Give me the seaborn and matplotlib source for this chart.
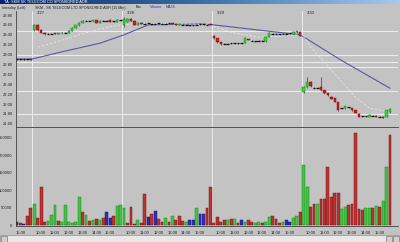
import numpy as np
import pandas as pd
import matplotlib
matplotlib.use("Agg")
import matplotlib.pyplot as plt
import seaborn as sns
from matplotlib.patches import Rectangle
from matplotlib.colors import LinearSegmentedColormap

sns.set_theme(style="white")
plt.rcParams['font.family'] = ['Liberation Sans', 'DejaVu Sans']

# ---------------- data ----------------
open_ = [22.91, 22.91, 22.91, 22.91, 22.91,
         23.50, 23.60, 23.50, 23.44, 23.42, 23.42, 23.43, 23.42, 23.43, 23.44, 23.44, 23.48, 23.54, 23.59, 23.64,
         23.68, 23.68, 23.68, 23.69, 23.64, 23.68, 23.68, 23.70, 23.67, 23.66, 23.69,
         23.60, 23.66, 23.72, 23.68, 23.60, 23.64, 23.62, 23.63, 23.62, 23.62, 23.63, 23.62, 23.62, 23.63, 23.63,
         23.62, 23.60, 23.60, 23.60, 23.59, 23.59, 23.60, 23.61, 23.61, 23.60, 23.61,
         23.38, 23.33, 23.25, 23.22, 23.22, 23.23, 23.23, 23.23, 23.23, 23.24, 23.31, 23.28, 23.27, 23.28, 23.28,
         23.27, 23.36, 23.42, 23.42, 23.41, 23.42, 23.42, 23.43, 23.42, 23.46, 23.46,
         22.24, 22.34, 22.45, 22.33, 22.33, 22.34, 22.28, 22.22, 22.15, 22.12, 22.04, 21.92, 21.92, 21.94, 21.92,
         21.88, 21.80, 21.75, 21.75, 21.74, 21.76, 21.76, 21.74, 21.74, 21.74, 21.84]
high = [22.92, 22.92, 22.92, 22.92, 22.92,
        23.62, 23.62, 23.51, 23.45, 23.43, 23.43, 23.44, 23.44, 23.45, 23.45, 23.49, 23.55, 23.60, 23.65, 23.69,
        23.69, 23.69, 23.70, 23.70, 23.69, 23.69, 23.69, 23.71, 23.68, 23.71, 23.70,
        23.76, 23.73, 23.73, 23.69, 23.65, 23.65, 23.63, 23.64, 23.63, 23.63, 23.64, 23.63, 23.63, 23.64, 23.64,
        23.63, 23.62, 23.61, 23.61, 23.60, 23.60, 23.61, 23.62, 23.62, 23.61, 23.62,
        23.39, 23.34, 23.26, 23.23, 23.23, 23.24, 23.24, 23.24, 23.24, 23.35, 23.32, 23.29, 23.28, 23.29, 23.29,
        23.37, 23.45, 23.43, 23.43, 23.42, 23.43, 23.43, 23.44, 23.48, 23.48, 23.48,
        22.36, 22.55, 22.47, 22.34, 22.34, 22.55, 22.29, 22.23, 22.16, 22.13, 22.05, 21.93, 21.97, 21.95, 21.93,
        21.89, 21.81, 21.76, 21.76, 21.79, 21.77, 21.77, 21.75, 21.75, 21.89, 21.93]
low = [22.90, 22.90, 22.90, 22.90, 22.89,
       23.48, 23.48, 23.43, 23.40, 23.41, 23.41, 23.41, 23.42, 23.42, 23.43, 23.44, 23.47, 23.53, 23.58, 23.63,
       23.67, 23.67, 23.67, 23.63, 23.63, 23.67, 23.67, 23.65, 23.66, 23.65, 23.68,
       23.56, 23.65, 23.67, 23.59, 23.59, 23.61, 23.61, 23.62, 23.61, 23.61, 23.62, 23.61, 23.61, 23.62, 23.61,
       23.59, 23.59, 23.59, 23.59, 23.58, 23.58, 23.59, 23.60, 23.60, 23.59, 23.59,
       23.32, 23.24, 23.19, 23.21, 23.21, 23.22, 23.22, 23.22, 23.22, 23.23, 23.29, 23.27, 23.26, 23.27, 23.27,
       23.26, 23.35, 23.41, 23.41, 23.40, 23.41, 23.41, 23.42, 23.41, 23.44, 23.37,
       22.22, 22.33, 22.34, 22.32, 22.32, 22.27, 22.21, 22.17, 22.10, 22.04, 21.87, 21.91, 21.91, 21.93, 21.87,
       21.81, 21.73, 21.74, 21.74, 21.73, 21.75, 21.73, 21.73, 21.71, 21.73, 21.83]
close = [22.91, 22.91, 22.91, 22.91, 22.90,
         23.60, 23.50, 23.44, 23.41, 23.42, 23.42, 23.42, 23.43, 23.44, 23.44, 23.48, 23.54, 23.59, 23.64, 23.68,
         23.68, 23.68, 23.69, 23.64, 23.68, 23.68, 23.68, 23.66, 23.67, 23.70, 23.69,
         23.72, 23.72, 23.68, 23.60, 23.64, 23.62, 23.62, 23.63, 23.62, 23.62, 23.63, 23.62, 23.62, 23.63, 23.62,
         23.60, 23.61, 23.60, 23.60, 23.59, 23.59, 23.60, 23.61, 23.61, 23.60, 23.60,
         23.34, 23.25, 23.21, 23.22, 23.22, 23.23, 23.23, 23.23, 23.23, 23.33, 23.30, 23.28, 23.27, 23.28, 23.28,
         23.36, 23.43, 23.42, 23.42, 23.41, 23.42, 23.42, 23.43, 23.46, 23.47, 23.38,
         22.34, 22.45, 22.36, 22.33, 22.33, 22.28, 22.22, 22.18, 22.11, 22.05, 21.88, 21.92, 21.96, 21.94, 21.88,
         21.82, 21.74, 21.75, 21.75, 21.78, 21.76, 21.74, 21.74, 21.72, 21.88, 21.90]

volume = [10000, 5000, 3000, 27000, 48000, 60000, 21000, 110000, 8000, 12000,
          29000, 58000, 12000, 8000, 58000, 8000, 5000, 8000, 79000, 37000,
          29000, 12000, 14000, 16000, 14000, 21000, 38000, 21000, 26000, 55000,
          58000, 50000, 7000, 53000, 3000, 14000, 7000, 89000, 24000, 31000,
          40000, 17000, 10000, 19000, 10000, 27000, 14000, 26000, 12000, 8000,
          14000, 14000, 50000,
          31000, 32000, 48000, 109000, 5000, 22000, 10000, 14000, 14000, 17000,
          16000, 5000, 14000, 10000, 14000, 8000, 5000, 8000, 6000, 10000,
          23000, 26000, 16000, 7000, 9000, 14000, 10000, 21000, 27000, 37000,
          171000, 108000, 53000, 60000, 60000, 75000, 75000, 165000, 79000, 91000,
          91000, 46000, 53000, 56000, 60000, 264000, 46000, 43000, 48000, 48000,
          48000, 55000, 51000, 69000, 166000, 257000]
vol_color = list("brbrrgrrrg" "ggrggggggr" "grgrgrbbrg" "ggrrrgrrbr" "brrgrgrrrg" "bbg"
                 "bbrrrrrrgr" "grbgrrggrg" "grrrgbbggr" "ggrrgrrrrr" "rggrrrrrgg" "rgrggr")

ma_bar = [0, 4, 5, 12, 24, 31, 38, 53, 57, 72, 82, 94, 108]
ma_val = [22.91, 22.91, 22.92, 23.04, 23.23, 23.40, 23.60, 23.62, 23.60, 23.48, 23.40, 22.88, 22.32]

fast_bar = [6, 12, 18, 24, 30, 36, 56, 57, 62, 70, 82, 83, 85, 91, 98, 102, 108]
fast_val = [23.15, 23.27, 23.40, 23.52, 23.60, 23.63, 23.61, 23.57, 23.45, 23.35, 23.40,
            23.38, 23.15, 22.69, 22.14, 21.92, 21.84]

level_lines = [23.47, 22.99, 22.85, 22.74, 22.27, 21.80]
day_breaks = [4.5, 30.5, 56.5, 82.5]
day_labels = ["3/27", "3/28", "3/29", "3/30"]
time_ticks = [1, 7, 11, 15, 19, 23, 27, 33, 37, 41, 45, 49, 53, 59, 63, 67, 71, 75, 79,
              85, 89, 93, 97, 101, 105]
time_labels = ["15:00"] + ["10:00", "11:00", "12:00", "13:00", "14:00", "15:00"] * 4
price_ticks = [23.80, 23.60, 23.40, 23.20, 23.00, 22.80, 22.60, 22.40, 22.20, 22.00, 21.80, 21.60]
vol_ticks = [0, 50000, 100000, 150000, 200000, 250000]

# ---------------- figure ----------------
W, H = 400, 242
BG = "#c3c3c3"
fig = plt.figure(figsize=(4, 2.42), dpi=100, facecolor=BG)


def fy(y):
    return (H - y) / H


ax_p = fig.add_axes([16 / W, fy(127), 382 / W, (127 - 11) / H], facecolor=BG)
ax_v = fig.add_axes([16 / W, fy(225.5), 382 / W, (225.5 - 128) / H], facecolor=BG)

n = len(close)
xs = np.arange(n)
xlim = (-0.275, 110.3)

# price panel
for lv in level_lines:
    ax_p.axhline(lv, color="#ececec", lw=0.8, zorder=1)
for b in day_breaks:
    ax_p.axvline(b, color="#ececec", lw=0.7, zorder=1)

sns.lineplot(x=ma_bar, y=ma_val, ax=ax_p, color="#5858a8", lw=0.8, zorder=2)
sns.lineplot(x=fast_bar, y=fast_val, ax=ax_p, color="#e6e6e6", lw=0.6,
             linestyle=(0, (3, 2)), zorder=2)

o = np.array(open_); c = np.array(close); hi = np.array(high); lo = np.array(low)
ax_p.vlines(xs, lo, hi, color="#1a1a1a", lw=0.4, zorder=3)
doji = np.abs(c - o) < 0.005
up = (c > o) & ~doji
dn = (c < o) & ~doji
bw = 0.7
ax_p.bar(xs[up], (c - o)[up], bottom=o[up], width=bw, color="#33d633",
         edgecolor="#127a12", lw=0.3, zorder=4)
ax_p.bar(xs[dn], (o - c)[dn], bottom=c[dn], width=bw, color="#d41c1c",
         edgecolor="#6e0a0a", lw=0.3, zorder=4)
ax_p.hlines(o[doji], xs[doji] - 0.38, xs[doji] + 0.38, color="#111111", lw=0.9, zorder=4)

ax_p.set_xlim(*xlim)
ax_p.set_ylim(21.537, 23.881)
ax_p.set_yticks(price_ticks)
ax_p.set_yticklabels([f"{t:.2f}" for t in price_ticks])
ax_p.set_xticks([])
ax_p.set_xlabel(""); ax_p.set_ylabel("")
for b, lab in zip(day_breaks, day_labels):
    ax_p.text(b + 1.3, 23.835, lab, fontsize=3, color="#202020", va="center", ha="left")

# volume panel
vdf = pd.DataFrame({"bar": xs, "volume": volume, "kind": vol_color})
pal = {"r": "#d41c1c", "g": "#33d633", "b": "#1c1cc8"}
for b in day_breaks:
    ax_v.axvline(b, color="#ececec", lw=0.7, zorder=0)
sns.barplot(data=vdf, x="bar", y="volume", hue="kind", palette=pal, dodge=False,
            width=0.82, errorbar=None, legend=False, ax=ax_v, zorder=2)
edge = {"r": "#6e0a0a", "g": "#127a12", "b": "#0a0a6e"}
for p in ax_v.patches:
    fc = p.get_facecolor()
    k = "r" if fc[0] > 0.6 else ("g" if fc[1] > 0.6 else "b")
    p.set_edgecolor(edge[k]); p.set_linewidth(0.3)

ax_v.set_xlim(*xlim)
ax_v.set_ylim(-1400, 277800)
ax_v.set_yticks(vol_ticks)
ax_v.set_yticklabels([str(t) for t in vol_ticks])
ax_v.set_xticks(time_ticks)
ax_v.set_xticklabels(time_labels)
ax_v.set_xlabel(""); ax_v.set_ylabel("")

for a in (ax_p, ax_v):
    a.tick_params(axis="both", labelsize=3, length=1.5, width=0.4, pad=1,
                  colors="#303030", labelcolor="#202020")
    for s in ("top", "right"):
        a.spines[s].set_visible(False)
    a.spines["left"].set_color("#404040"); a.spines["left"].set_linewidth(0.6)
    a.spines["bottom"].set_color("#404040"); a.spines["bottom"].set_linewidth(0.6)
ax_v.tick_params(axis="x", pad=2.5)
ax_p.tick_params(axis="x", length=0)

# title bar (window caption)
ax_t = fig.add_axes([0, fy(4), 1, 4 / H])
grad = np.linspace(0, 1, 256).reshape(1, -1)
cm = LinearSegmentedColormap.from_list("cap", ["#0a246a", "#3a6ea5", "#a6caf0"])
ax_t.imshow(grad, aspect="auto", cmap=cm, extent=(0, 1, 0, 1))
ax_t.set_axis_off()
ax_t.text(0.01, 0.45, "TA: SKM SK TELECOM CO SPONSORED ADR", color="white", fontsize=2.8,
          va="center", ha="left", transform=ax_t.transAxes, clip_on=True)

# info line
fs_info = 2.7
fig.text(2 / W, fy(7.5), "Intraday (Left)", fontsize=fs_info, color="#202020", va="center")
fig.text(35 / W, fy(7.5), "SKM - SK TELECOM LTD SPONSORED ADR (15 Min)", fontsize=fs_info,
         color="#202020", va="center")
fig.text(136 / W, fy(7.5), "Bar", fontsize=fs_info, color="#202020", va="center")
fig.text(150 / W, fy(7.5), "Volume", fontsize=fs_info, color="#3030b0", va="center")
fig.text(166 / W, fy(7.5), "MA34", fontsize=fs_info, color="#3030b0", va="center")

# scrollbar
ax_s = fig.add_axes([0, 0, 1, 7 / H])
ax_s.set_xlim(0, W); ax_s.set_ylim(0, 7)
ax_s.add_patch(Rectangle((0, 0), W, 7, fc="#e8e8e8", ec="#808080", lw=0.4))
ax_s.add_patch(Rectangle((0.5, 0.5), 6, 6, fc="#d4d0c8", ec="#606060", lw=0.4))
ax_s.add_patch(Rectangle((386, 0.5), 6, 6, fc="#d4d0c8", ec="#606060", lw=0.4))
ax_s.add_patch(Rectangle((393, 0.5), 6, 6, fc="#d4d0c8", ec="#606060", lw=0.4))
ax_s.set_axis_off()

fig.savefig("out.png", dpi=100, facecolor=BG)
